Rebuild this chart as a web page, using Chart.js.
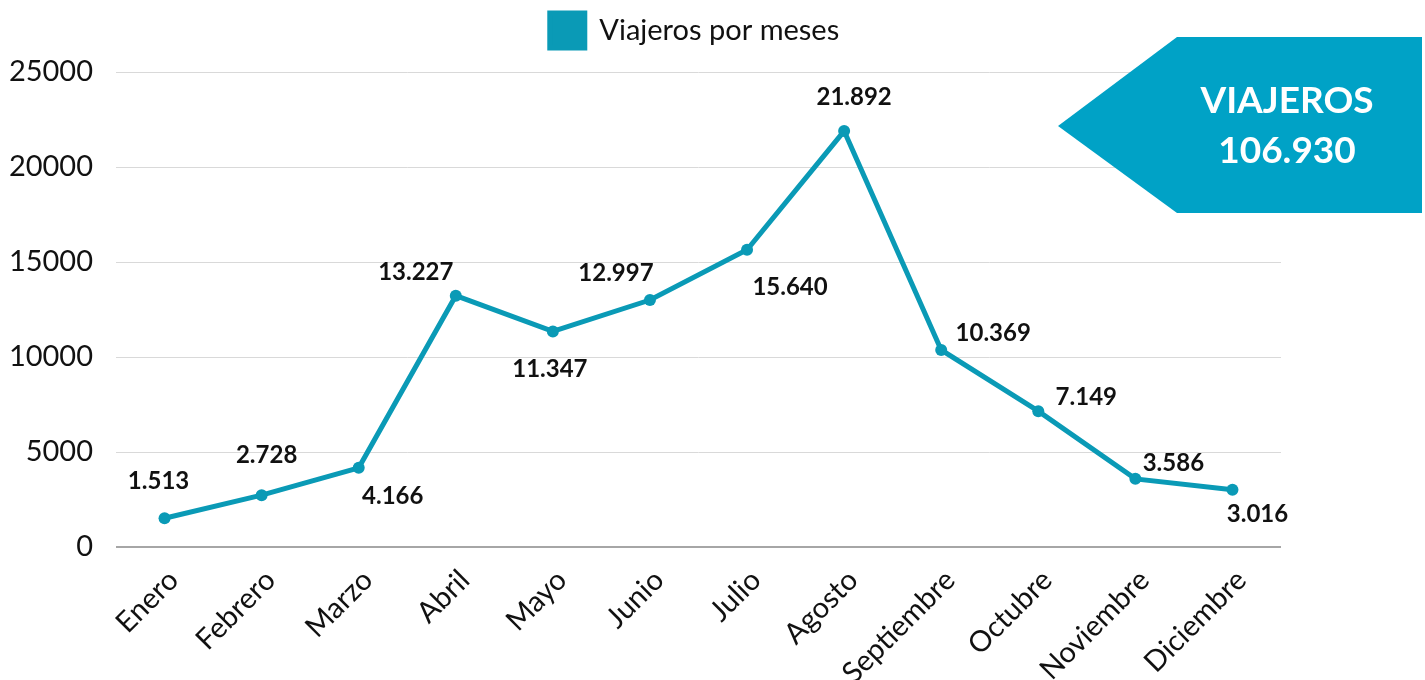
<!DOCTYPE html>
<html>
<head>
<meta charset="utf-8">
<script src="https://cdn.jsdelivr.net/npm/chart.js@4"></script>
<style>
  html, body { margin: 0; padding: 0; background: #fff; }
  #wrap { width: 1425px; height: 680px; }
</style>
</head>
<body>
<div id="wrap"><canvas id="GraficoViajeros"></canvas></div>
<script>
const meses = ['Enero', 'Febrero', 'Marzo', 'Abril', 'Mayo', 'Junio', 'Julio', 'Agosto', 'Septiembre', 'Octubre', 'Noviembre', 'Diciembre'];
const viajeros = [1513, 2728, 4166, 13227, 11347, 12997, 15640, 21892, 10369, 7149, 3586, 3016];
const totalTexto = ['VIAJEROS', '106.930'];

// where each value label sits relative to its point (px)
const desplazamiento = [[-6, -37], [5, -40], [34, 28], [-40, -23], [-3, 38], [-34, -27], [43, 37], [10, -34], [52, -17], [48, -14], [38, -16], [25, 25]];

const azul = '#0a9ab6';
const fuente = 'Lato, "Noto Sans", sans-serif';

function formato(n) {
    return String(n).replace(/\B(?=(\d{3})+(?!\d))/g, '.');
}

const etiquetas = {
    id: 'etiquetas',
    afterDatasetsDraw(chart) {
        const ctx = chart.ctx;
        const meta = chart.getDatasetMeta(0);
        ctx.save();
        ctx.font = 'bold 24px ' + fuente;
        ctx.fillStyle = '#111';
        ctx.textAlign = 'center';
        ctx.textBaseline = 'middle';
        meta.data.forEach((p, i) => {
            const d = desplazamiento[i];
            ctx.fillText(formato(viajeros[i]), p.x + d[0], p.y + d[1]);
        });
        ctx.restore();
    }
};

const cartel = {
    id: 'cartel',
    afterDraw(chart) {
        const ctx = chart.ctx;
        ctx.save();
        ctx.fillStyle = '#00a2c6';
        ctx.beginPath();
        ctx.moveTo(1058, 126);
        ctx.lineTo(1177, 37);
        ctx.lineTo(1422, 37);
        ctx.lineTo(1422, 213);
        ctx.lineTo(1177, 213);
        ctx.closePath();
        ctx.fill();
        ctx.fillStyle = '#fff';
        ctx.font = 'bold 37px ' + fuente;
        ctx.textAlign = 'center';
        ctx.textBaseline = 'alphabetic';
        ctx.fillText(totalTexto[0], 1287, 113);
        ctx.fillText(totalTexto[1], 1287, 163);
        ctx.restore();
    }
};

// legend sits a bit right of the plot centre and leaves a gap above the plot
const margenLeyenda = {
    id: 'margenLeyenda',
    beforeInit(chart) {
        const fit = chart.legend.fit;
        chart.legend.fit = function () {
            fit.bind(chart.legend)();
            this.height += 14;
        };
    },
    afterLayout(chart) {
        chart.legend.left += 54;
        chart.legend.right += 54;
    }
};

document.addEventListener('DOMContentLoaded', function () {
    const ctx = document.getElementById('GraficoViajeros').getContext('2d');
    new Chart(ctx, {
        type: 'line',
        data: {
            labels: meses,
            datasets: [{
                label: 'Viajeros por meses',
                data: viajeros,
                borderColor: azul,
                backgroundColor: azul,
                borderWidth: 5,
                pointRadius: 6,
                pointBackgroundColor: azul,
                pointBorderWidth: 0,
                tension: 0
            }]
        },
        options: {
            responsive: true,
            maintainAspectRatio: false,
            animation: false,
            layout: { padding: { top: 3, right: 144, left: 0, bottom: 0 } },
            plugins: {
                legend: {
                    position: 'top',
                    labels: {
                        boxWidth: 35,
                        boxHeight: 35,
                        padding: 10,
                        color: '#111',
                        font: { family: fuente, size: 29 }
                    }
                },
                tooltip: { enabled: false }
            },
            scales: {
                y: {
                    min: 0,
                    max: 25000,
                    border: { display: false },
                    grid: {
                        drawTicks: false,
                        color: c => c.tick && c.tick.value === 0 ? '#a6a6a6' : '#d9d9d9',
                        lineWidth: c => c.tick && c.tick.value === 0 ? 2 : 1
                    },
                    ticks: {
                        stepSize: 5000,
                        padding: 23,
                        color: '#111',
                        font: { family: fuente, size: 29 },
                        callback: v => String(v)
                    },
                    afterFit: s => { s.width = 116; }
                },
                x: {
                    offset: true,
                    border: { display: false },
                    grid: { display: false, drawTicks: false },
                    ticks: {
                        minRotation: 45,
                        maxRotation: 45,
                        padding: 16,
                        labelOffset: 9,
                        color: '#111',
                        font: { family: fuente, size: 29 }
                    },
                    afterFit: s => { s.height = 133; }
                }
            }
        },
        plugins: [etiquetas, cartel, margenLeyenda]
    });
});
</script>
</body>
</html>
